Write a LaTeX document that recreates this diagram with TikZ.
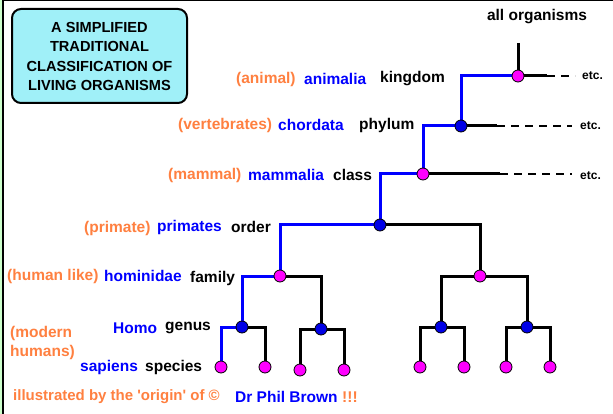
\documentclass[tikz,border=0pt]{standalone}
\usepackage{fontspec}
\setmainfont{Liberation Sans}
\newfontfamily\rawsans{Liberation Sans}[Ligatures=TeXOff]
\usetikzlibrary{backgrounds}
\definecolor{lorange}{RGB}{255,128,64}
\definecolor{lblue}{RGB}{0,0,255}
\definecolor{lmag}{RGB}{255,0,255}
\definecolor{nblue}{RGB}{0,0,230}
\definecolor{boxcyan}{RGB}{160,240,248}
\definecolor{stripgreen}{RGB}{204,255,204}
\begin{document}
\begin{tikzpicture}[x=1pt,y=-1pt,
  lbl/.style={inner sep=0pt,anchor=west,font=\fontsize{15.5}{18}\selectfont\bfseries},
  orng/.style={lbl,text=lorange},
  bl/.style={lbl,text=lblue},
  blk/.style={lbl,text=black},
  etcl/.style={inner sep=0pt,anchor=west,font=\fontsize{12}{14}\selectfont\bfseries},
  mnode/.style={circle,fill=lmag,draw=black,line width=0.8pt,minimum size=12pt,inner sep=0pt},
  bnode/.style={circle,fill=nblue,draw=black,line width=0.8pt,minimum size=12pt,inner sep=0pt},
  bline/.style={draw=lblue,line width=3pt},
  kline/.style={draw=black,line width=3pt},
  dline/.style={draw=black,line width=2.2pt,dash pattern=on 8pt off 6pt}
]
\useasboundingbox (0,0) rectangle (613,414);
% frame
\fill[stripgreen] (0,0) rectangle (2.5,414);
\draw[black,line width=1.2pt] (3,0) -- (3,414);
\draw[black,line width=1.5pt] (3,0.75) -- (613,0.75);

% title box
\node[draw=black,line width=2pt,fill=boxcyan,rounded corners=9pt,minimum width=175pt,minimum height=94pt,inner sep=0pt] (title) at (99.5,56) {};
\node[align=center,inner sep=0pt,font=\fontsize{14.6}{19.5}\selectfont\bfseries] (titletext) at (99.5,56.5) {A SIMPLIFIED\\TRADITIONAL\\CLASSIFICATION OF\\LIVING ORGANISMS};

% labels
\node[inner sep=0pt,font=\fontsize{15.5}{18}\selectfont\bfseries] (allorg) at (537,17) {all organisms};
\node[orng] (l1a) at (236,79) {(animal)};
\node[bl] (l1b) at (304,79) {animalia};
\node[blk] (l1c) at (380,79) {kingdom};
\node[orng] (l2a) at (178,125) {(vertebrates)};
\node[bl] (l2b) at (278,125) {chordata};
\node[blk] (l2c) at (359,125) {phylum};
\node[orng] (l3a) at (168,175) {(mammal)};
\node[bl] (l3b) at (248,175) {mammalia};
\node[blk] (l3c) at (333,175) {class};
\node[orng] (l4a) at (84,228) {(primate)};
\node[bl] (l4b) at (157,227) {primates};
\node[blk] (l4c) at (231,227) {order};
\node[orng] (l5a) at (7,276) {(human like)};
\node[bl] (l5b) at (104,276) {hominidae};
\node[blk] (l5c) at (190,278) {family};
\node[bl] (l6b) at (113,328) {Homo};
\node[blk] (l6c) at (165,328) {genus};
\node[orng] (l6a) at (10,333) {(modern};
\node[orng] (l7a) at (10,352) {humans)};
\node[bl] (l7b) at (80,367) {sapiens};
\node[blk] (l7c) at (145,367) {species};
\node[orng,font=\fontsize{15}{18}\rawsans\bfseries] (f1) at (13,397) {illustrated by the 'origin' of ©};
\node[bl] (f2) at (235,397) {Dr Phil Brown};
\node[orng] (f3) at (342,397) {!!!};

% tree nodes
\node[mnode] (k) at (518,76) {};
\node[bnode] (p) at (461,126) {};
\node[mnode] (c) at (423,174) {};
\node[bnode] (o) at (380,225) {};
\node[mnode] (fL) at (280,276) {};
\node[mnode] (fR) at (480,276) {};
\node[bnode] (g1) at (242,327) {};
\node[bnode] (g2) at (321,329) {};
\node[bnode] (g3) at (441,327) {};
\node[bnode] (g4) at (527,327) {};
\node[mnode] (s1) at (221,367) {};
\node[mnode] (s2) at (265,367) {};
\node[mnode] (s3) at (300,370) {};
\node[mnode] (s4) at (344,370) {};
\node[mnode] (s5) at (420,367) {};
\node[mnode] (s6) at (464,367) {};
\node[mnode] (s7) at (506,367) {};
\node[mnode] (s8) at (550,367) {};

\coordinate (ktop) at (518,43);
\coordinate (ksol) at (547,76);
\coordinate (kend) at (575,76);
\coordinate (psol) at (497,126);
\coordinate (pend) at (572,126);
\coordinate (csol) at (500,174);
\coordinate (cend) at (572,174);
\node[etcl] (e1) at (582,76) {etc.};
\node[etcl] (e2) at (580,126) {etc.};
\node[etcl] (e3) at (580,176) {etc.};

\begin{scope}[on background layer]
  \fill[white] (3.6,1.5) rectangle (613,414);
  % blue lineage
  \draw[bline] (k.center) -| (p.center);
  \draw[bline] (p.center) -| (c.center);
  \draw[bline] (c.center) -| (o.center);
  \draw[bline] (o.center) -| (fL.center);
  \draw[bline] (fL.center) -| (g1.center);
  \draw[bline] (g1.center) -| (s1.center);
  % black branches
  \draw[kline] (ktop) -- (k.center);
  \draw[kline] (k.center) -- (ksol);
  \draw[dline] (ksol) -- (kend);
  \draw[kline] (p.center) -- (psol);
  \draw[dline] (psol) -- (pend);
  \draw[kline] (c.center) -- (csol);
  \draw[dline] (csol) -- (cend);
  \draw[kline] (o.center) -| (fR.center);
  \draw[kline] (fL.center) -| (g2.center);
  \draw[kline] (fR.center) -| (g3.center);
  \draw[kline] (fR.center) -| (g4.center);
  \draw[kline] (g1.center) -| (s2.center);
  \draw[kline] (g2.center) -| (s3.center);
  \draw[kline] (g2.center) -| (s4.center);
  \draw[kline] (g3.center) -| (s5.center);
  \draw[kline] (g3.center) -| (s6.center);
  \draw[kline] (g4.center) -| (s7.center);
  \draw[kline] (g4.center) -| (s8.center);
\end{scope}
\end{tikzpicture}
\end{document}
